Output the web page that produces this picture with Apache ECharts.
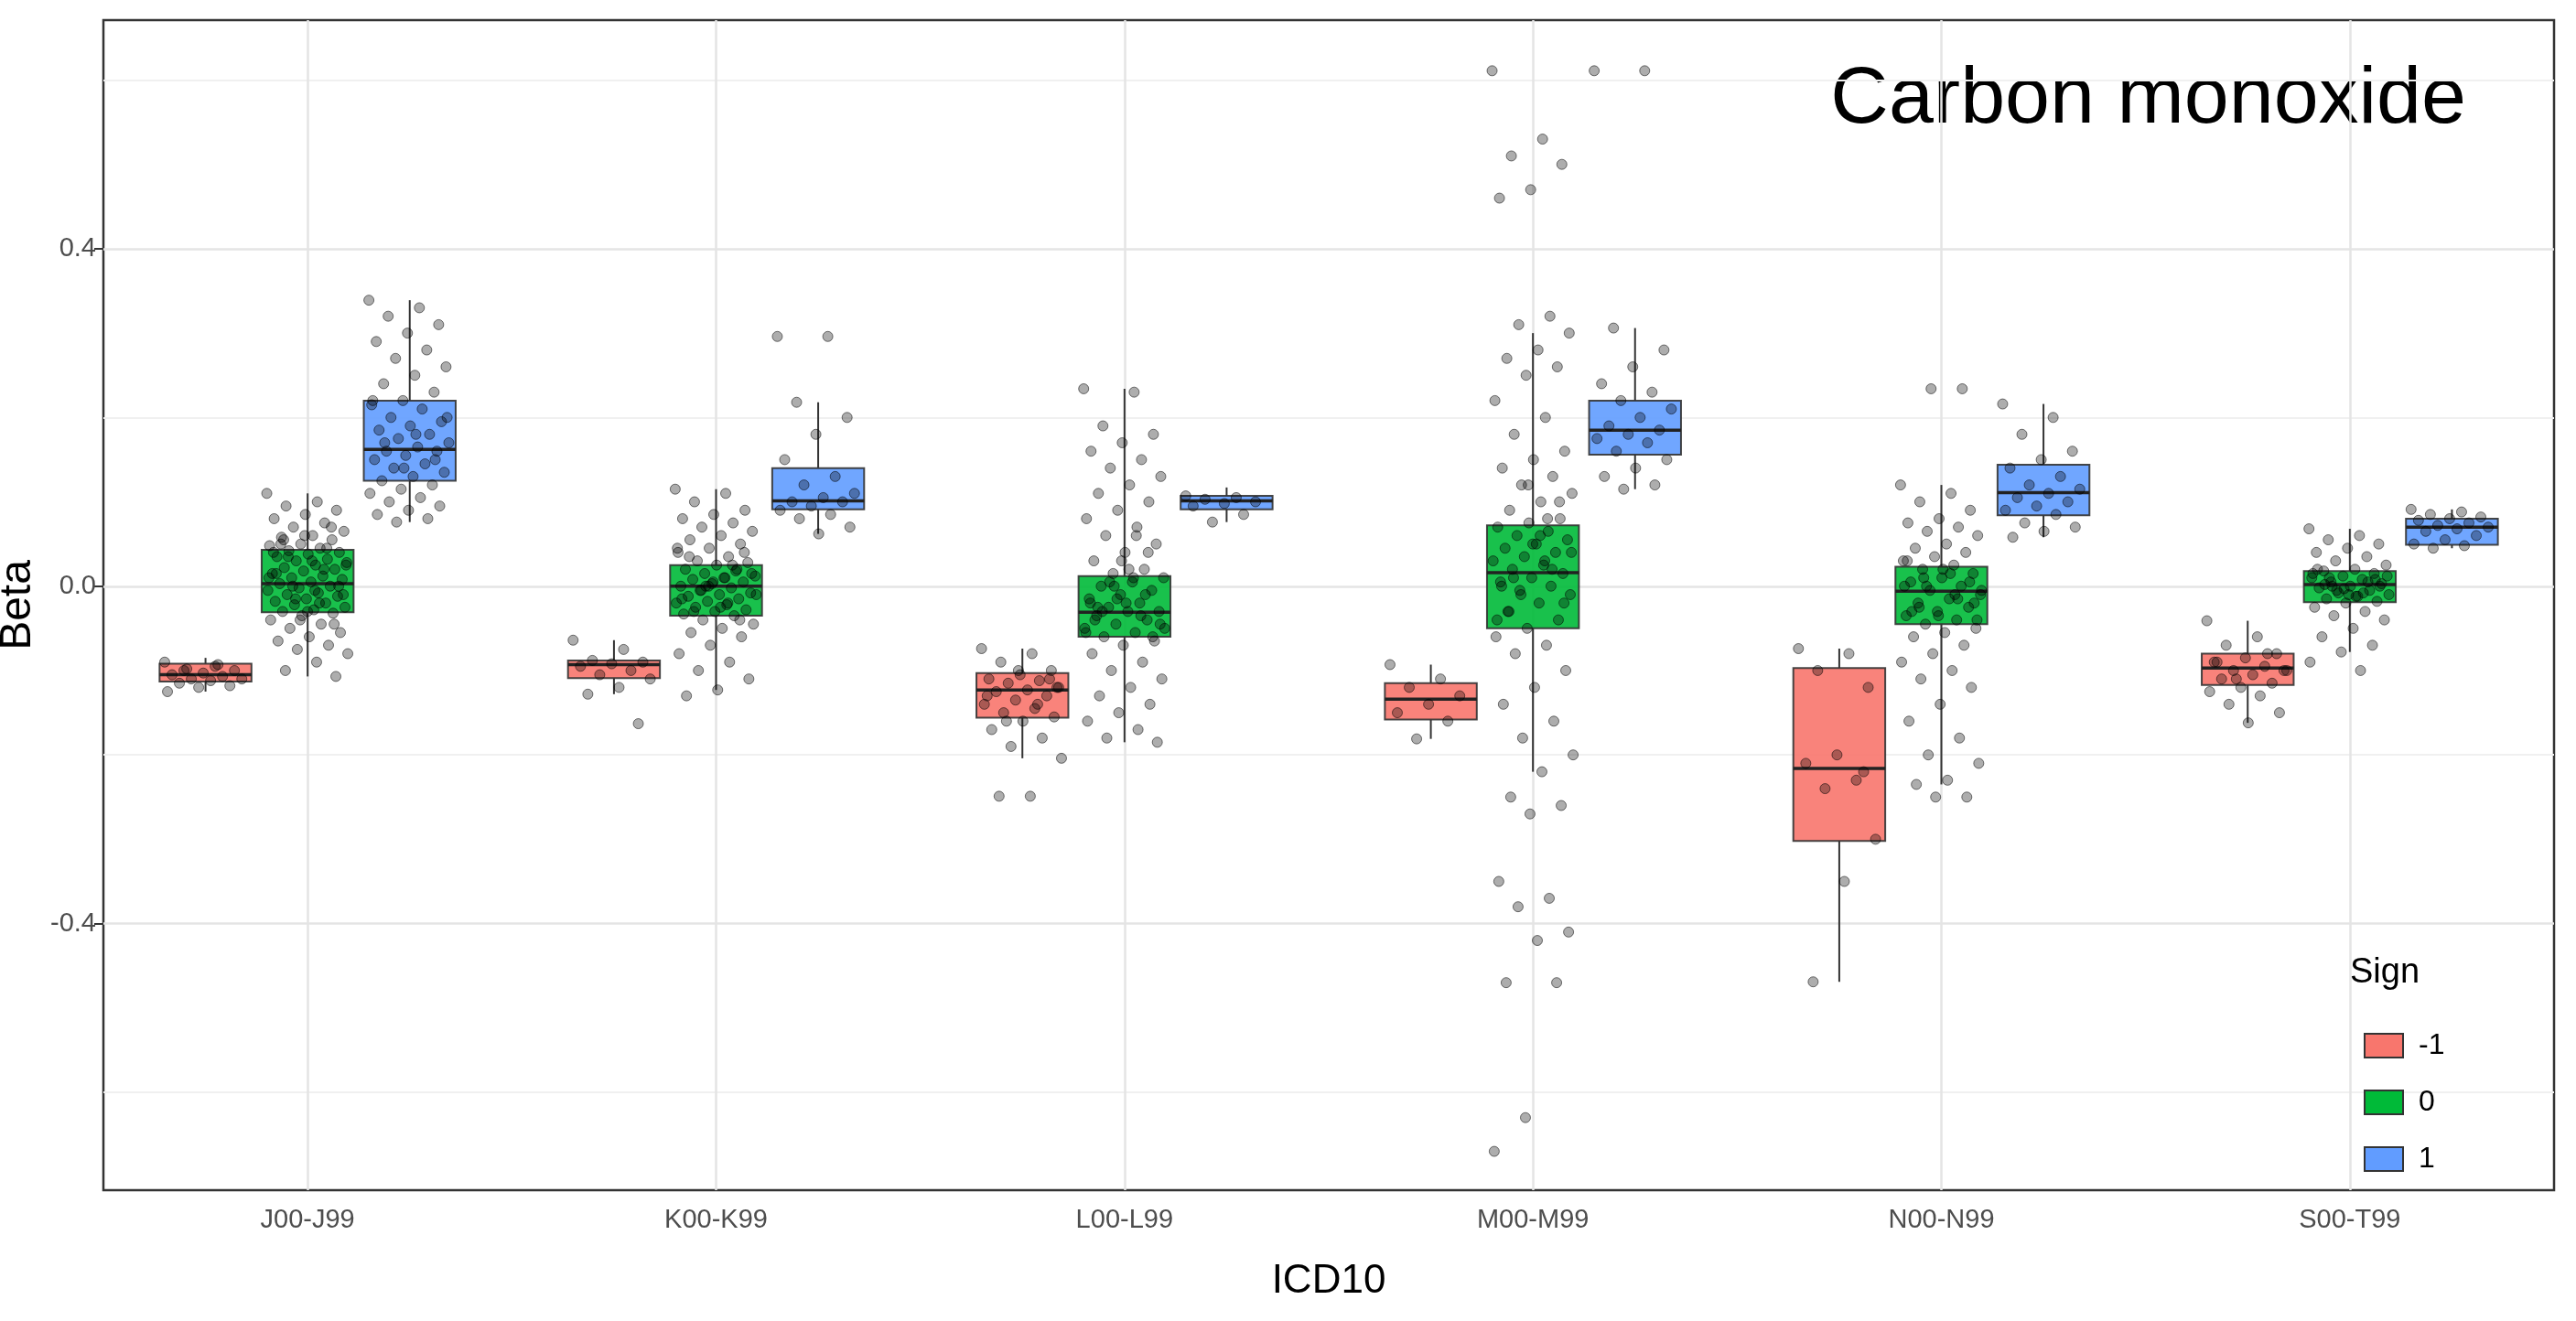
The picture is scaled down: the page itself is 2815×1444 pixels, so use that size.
<!DOCTYPE html>
<html><head><meta charset="utf-8">
<script src="https://cdn.jsdelivr.net/npm/echarts@6/dist/echarts.min.js"></script>
<style>html,body{margin:0;padding:0;background:#fff}#c{width:2815px;height:1444px}</style>
</head><body><div id="c"></div>
<script>
const categories = ['J00-J99','K00-K99','L00-L99','M00-M99','N00-N99','S00-T99'];
const signs = ['-1','0','1'];
const colors = ['#F8766D','#00BA38','#619CFF'];
const yTickLabels = [-0.4, 0, 0.4];
// [whiskerLow, q1, median, q3, whiskerHigh] per category
const boxNeg = [[-0.125,-0.113,-0.105,-0.092,-0.085],[-0.128,-0.109,-0.093,-0.088,-0.064],[-0.204,-0.156,-0.123,-0.103,-0.074],[-0.181,-0.158,-0.134,-0.115,-0.093],[-0.469,-0.302,-0.216,-0.097,-0.074],[-0.162,-0.117,-0.097,-0.08,-0.041]];
const boxZero = [[-0.107,-0.031,0.003,0.043,0.11],[-0.123,-0.035,0.0,0.025,0.115],[-0.185,-0.06,-0.031,0.012,0.234],[-0.22,-0.05,0.016,0.072,0.3],[-0.235,-0.045,-0.006,0.023,0.12],[-0.078,-0.019,0.002,0.018,0.068]];
const boxPos = [[0.076,0.125,0.162,0.22,0.339],[0.062,0.091,0.101,0.14,0.218],[0.076,0.091,0.101,0.107,0.117],[0.115,0.156,0.185,0.22,0.306],[0.058,0.084,0.111,0.144,0.216],[0.045,0.049,0.07,0.08,0.091]];
// jittered observations per category
const ptsNeg = [
 [-0.09,-0.095,-0.1,-0.1,-0.103,-0.105,-0.107,-0.11,-0.11,-0.112,-0.115,-0.118,-0.12,-0.125,-0.093,-0.098],
 [-0.064,-0.075,-0.088,-0.09,-0.092,-0.095,-0.1,-0.105,-0.11,-0.12,-0.128,-0.163],
 [-0.074,-0.08,-0.09,-0.1,-0.105,-0.11,-0.112,-0.115,-0.12,-0.123,-0.125,-0.13,-0.135,-0.14,-0.145,-0.15,-0.155,-0.16,-0.17,-0.18,-0.19,-0.204,-0.249,-0.249,-0.11,-0.1,-0.13,-0.14,-0.16,-0.12],
 [-0.093,-0.11,-0.12,-0.13,-0.14,-0.15,-0.16,-0.181],
 [-0.074,-0.08,-0.1,-0.12,-0.2,-0.21,-0.23,-0.24,-0.3,-0.35,-0.469,-0.22],
 [-0.041,-0.06,-0.07,-0.08,-0.085,-0.09,-0.095,-0.1,-0.1,-0.105,-0.11,-0.115,-0.12,-0.125,-0.13,-0.14,-0.15,-0.162,-0.09,-0.08,-0.11,-0.1]
];
const ptsZero = [
 [0.11,0.1,0.095,0.09,0.085,0.08,0.075,0.07,0.065,0.06,0.058,0.055,0.05,0.048,0.045,0.042,0.04,0.038,0.035,0.032,0.03,0.028,0.025,0.022,0.02,0.018,0.015,0.012,0.01,0.008,0.005,0.003,0.0,-0.002,-0.005,-0.008,-0.01,-0.012,-0.015,-0.018,-0.02,-0.022,-0.025,-0.028,-0.03,-0.032,-0.035,-0.04,-0.045,-0.05,-0.055,-0.06,-0.065,-0.07,-0.075,-0.08,-0.09,-0.1,-0.107,0.06,0.04,0.02,0.0,-0.01,0.03,0.05,0.07,-0.04,0.01,-0.02,0.035,0.0,-0.03,0.015,0.045,-0.015,0.025,-0.005,0.055,-0.045],
 [0.115,0.11,0.1,0.09,0.085,0.08,0.075,0.07,0.065,0.06,0.055,0.05,0.045,0.04,0.035,0.03,0.028,0.025,0.02,0.018,0.015,0.012,0.01,0.008,0.005,0.003,0.0,-0.002,-0.005,-0.008,-0.01,-0.012,-0.015,-0.018,-0.02,-0.022,-0.025,-0.028,-0.03,-0.033,-0.035,-0.04,-0.045,-0.05,-0.055,-0.06,-0.07,-0.08,-0.09,-0.1,-0.11,-0.123,-0.13,0.02,0.0,-0.01,0.01,-0.03,0.04,0.005,-0.015,0.025,-0.005,0.015,-0.025,0.035,-0.04,0.0,0.045,-0.02],
 [0.234,0.23,0.19,0.18,0.17,0.16,0.15,0.14,0.13,0.12,0.11,0.1,0.09,0.08,0.07,0.06,0.05,0.04,0.03,0.02,0.015,0.01,0.005,0.0,-0.005,-0.01,-0.015,-0.02,-0.025,-0.03,-0.03,-0.035,-0.04,-0.045,-0.05,-0.055,-0.06,-0.065,-0.07,-0.08,-0.09,-0.1,-0.11,-0.12,-0.13,-0.14,-0.15,-0.16,-0.17,-0.18,-0.185,-0.02,-0.04,-0.01,0.0,-0.05,0.01,-0.03,-0.06,0.03,-0.02,-0.035,0.005,-0.045,0.02,-0.025,0.04,-0.015,-0.055,0.06],
 [0.611,0.53,0.51,0.5,0.47,0.46,0.32,0.31,0.3,0.28,0.27,0.26,0.25,0.22,0.2,0.18,0.16,0.15,0.14,0.13,0.12,0.11,0.1,0.09,0.08,0.075,0.07,0.065,0.06,0.055,0.05,0.045,0.04,0.035,0.03,0.025,0.02,0.015,0.01,0.005,0.0,-0.005,-0.01,-0.02,-0.03,-0.04,-0.05,-0.06,-0.07,-0.08,-0.1,-0.12,-0.14,-0.16,-0.18,-0.2,-0.22,-0.25,-0.26,-0.27,-0.35,-0.37,-0.38,-0.41,-0.42,-0.47,-0.47,-0.63,-0.67,0.03,0.01,-0.02,0.05,0.0,0.02,-0.01,0.04,0.06,-0.03,0.1,0.12,-0.04,0.08],
 [0.12,0.11,0.1,0.09,0.08,0.075,0.07,0.065,0.06,0.05,0.045,0.04,0.035,0.03,0.025,0.02,0.015,0.01,0.005,0.0,-0.005,-0.01,-0.015,-0.02,-0.025,-0.03,-0.035,-0.04,-0.045,-0.05,-0.055,-0.06,-0.07,-0.08,-0.09,-0.1,-0.11,-0.12,-0.14,-0.16,-0.18,-0.2,-0.21,-0.23,-0.235,-0.25,-0.25,0.0,-0.01,0.01,-0.02,0.02,-0.03,0.234,0.234,-0.005,0.015,-0.025,0.005,-0.035,0.03,-0.015,0.0,-0.04],
 [0.068,0.06,0.055,0.05,0.045,0.04,0.035,0.03,0.025,0.02,0.018,0.015,0.012,0.01,0.008,0.005,0.003,0.0,-0.002,-0.005,-0.008,-0.01,-0.012,-0.015,-0.018,-0.02,-0.025,-0.03,-0.035,-0.04,-0.05,-0.06,-0.07,-0.078,-0.09,-0.1,0.01,0.0,-0.01,0.02,0.005,-0.005,0.012,-0.012,0.002,0.008,-0.003,0.015,-0.008,0.0]
];
const ptsPos = [
 [0.339,0.33,0.32,0.31,0.3,0.29,0.28,0.27,0.26,0.25,0.24,0.23,0.22,0.215,0.21,0.2,0.195,0.19,0.185,0.18,0.175,0.17,0.165,0.16,0.16,0.155,0.15,0.145,0.14,0.135,0.13,0.125,0.12,0.115,0.11,0.105,0.1,0.095,0.09,0.085,0.08,0.076,0.2,0.18,0.17,0.15,0.14,0.22],
 [0.296,0.296,0.218,0.2,0.18,0.15,0.13,0.12,0.11,0.105,0.1,0.1,0.095,0.09,0.085,0.08,0.07,0.062],
 [0.107,0.105,0.103,0.1,0.098,0.095,0.085,0.076],
 [0.611,0.611,0.306,0.28,0.26,0.24,0.23,0.22,0.21,0.2,0.19,0.185,0.18,0.175,0.17,0.16,0.15,0.14,0.13,0.12,0.115],
 [0.216,0.2,0.18,0.16,0.15,0.14,0.13,0.12,0.115,0.11,0.105,0.1,0.095,0.09,0.085,0.075,0.07,0.065,0.058],
 [0.091,0.088,0.085,0.082,0.08,0.078,0.075,0.072,0.07,0.068,0.065,0.06,0.055,0.05,0.048,0.045]
];

const offsets = [-0.25, 0, 0.25];
const boxW = 0.225;
function boxData(arr, k) { return arr.map((b, i) => [i + 1 + offsets[k]].concat(b)); }
function jitterData(groups, k) {
  const out = [];
  groups.forEach((g, i) => g.forEach((v, j) => {
    const f = ((j * 0.6180339887) % 1) - 0.5; // deterministic spread across the box width
    out.push([i + 1 + offsets[k] + f * 0.2, v]);
  }));
  return out;
}
function renderBox(color) {
  return function (params, api) {
    const x = api.value(0);
    const pLo = api.coord([x, api.value(1)]);
    const p1 = api.coord([x, api.value(2)]);
    const pm = api.coord([x, api.value(3)]);
    const p3 = api.coord([x, api.value(4)]);
    const pHi = api.coord([x, api.value(5)]);
    const w = api.size([boxW, 0])[0];
    const ls = { stroke: '#333', lineWidth: 2 };
    return { type: 'group', children: [
      { type: 'line', shape: { x1: pLo[0], y1: pLo[1], x2: p1[0], y2: p1[1] }, style: ls },
      { type: 'line', shape: { x1: p3[0], y1: p3[1], x2: pHi[0], y2: pHi[1] }, style: ls },
      { type: 'rect', shape: { x: p3[0] - w / 2, y: p3[1], width: w, height: p1[1] - p3[1] }, style: { fill: color, opacity: 0.9, stroke: '#333', lineWidth: 2 } },
      { type: 'line', shape: { x1: pm[0] - w / 2, y1: pm[1], x2: pm[0] + w / 2, y2: pm[1] }, style: { stroke: '#222', lineWidth: 3.5 } }
    ]};
  };
}
const boxes = [boxNeg, boxZero, boxPos];
const pts = [ptsNeg, ptsZero, ptsPos];
const series = [];
const gridLinesY = [-0.6, -0.4, -0.2, 0, 0.2, 0.4, 0.6];
const gridLinesX = [1, 2, 3, 4, 5, 6];
series.push({
  type: 'scatter', xAxisIndex: 1, data: [], silent: true, z: 0,
  markLine: { silent: true, symbol: 'none', label: { show: false }, z: 0,
    data: gridLinesY.map(v => ({ yAxis: v, lineStyle: { color: yTickLabels.includes(v) ? '#e4e4e4' : '#f0f0f0', width: yTickLabels.includes(v) ? 2.5 : 2, type: 'solid' } }))
      .concat(gridLinesX.map(v => ({ xAxis: v, lineStyle: { color: '#e4e4e4', width: 2.5, type: 'solid' } }))) }
});
for (let k = 0; k < 3; k++) {
  series.push({ name: signs[k], type: 'custom', xAxisIndex: 1, renderItem: renderBox(colors[k]), itemStyle: { color: colors[k], borderColor: '#333', borderWidth: 2 }, data: boxData(boxes[k], k), z: 2 });
}
for (let k = 0; k < 3; k++) {
  series.push({ type: 'scatter', xAxisIndex: 1, symbolSize: 11, itemStyle: { color: 'rgba(0,0,0,0.4)', borderColor: 'rgba(0,0,0,0.65)', borderWidth: 1 }, data: jitterData(pts[k], k), z: 5 });
}
const chart = echarts.init(document.getElementById('c'));
chart.setOption({
  animation: false,
  backgroundColor: '#fff',
  grid: { left: 113, right: 24, top: 22, bottom: 143, containLabel: false, outerBoundsMode: 'none', show: true, borderColor: '#333', borderWidth: 2.5, backgroundColor: '#fff' },
  xAxis: [
    { type: 'category', data: categories, boundaryGap: true, name: 'ICD10', nameLocation: 'middle', nameGap: 78,
      nameTextStyle: { fontSize: 44, color: '#000', fontFamily: 'Liberation Sans' },
      axisLine: { show: false }, axisTick: { alignWithLabel: true, length: 10, lineStyle: { color: '#333', width: 2 } },
      axisLabel: { fontSize: 29, color: '#4d4d4d', margin: 18, fontFamily: 'Liberation Sans' }, splitLine: { show: false } },
    { type: 'value', min: 0.5, max: 6.5, show: false }
  ],
  yAxis: { type: 'value', min: -0.716, max: 0.671, name: 'Beta', nameLocation: 'middle', nameGap: 60,
    nameTextStyle: { fontSize: 48, color: '#000', fontFamily: 'Liberation Sans' },
    axisLine: { show: false }, axisTick: { show: true, customValues: yTickLabels, length: 10, lineStyle: { color: '#333', width: 2 } },
    axisLabel: { customValues: yTickLabels, fontSize: 29, color: '#4d4d4d', fontFamily: 'Liberation Sans', formatter: v => v.toFixed(1) },
    splitLine: { show: false } },
  legend: { orient: 'vertical', left: 2578, top: 1122, align: 'left', itemWidth: 42, itemHeight: 26, itemGap: 30,
    data: signs.map((s, k) => ({ name: s, icon: 'rect', itemStyle: { color: colors[k], borderColor: '#333', borderWidth: 2 } })),
    textStyle: { fontSize: 32, color: '#000', fontFamily: 'Liberation Sans', padding: [0, 0, 0, 12] } },
  graphic: [
    { type: 'text', right: 120, top: 66, style: { text: 'Carbon monoxide', fontSize: 88, fill: '#000', fontFamily: 'Liberation Sans' } },
    { type: 'text', left: 2568, top: 1045, style: { text: 'Sign', fontSize: 38, fill: '#000', fontFamily: 'Liberation Sans' } }
  ],
  series: series
});
</script></body></html>
